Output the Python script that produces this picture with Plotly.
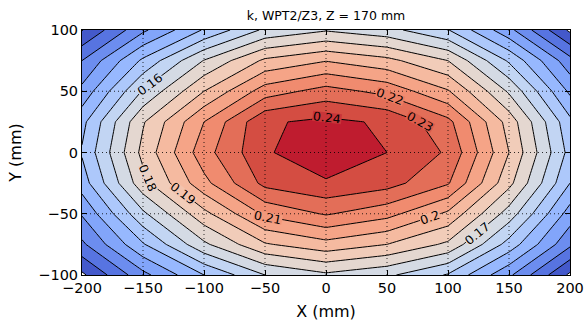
import math
import numpy as np
import plotly.graph_objects as go

x_mm = [-200, -150, -100, -50, 0, 50, 100, 150, 200]
y_mm = [-100, -75, -50, -25, 0, 25, 50, 75, 100]

k_y_m100 = [0.088, 0.117, 0.140, 0.160, 0.168, 0.162, 0.149, 0.122, 0.088]
k_y_m75 = [0.108, 0.139, 0.168, 0.189, 0.1965, 0.190, 0.178, 0.146, 0.112]
k_y_m50 = [0.121, 0.158, 0.187, 0.212, 0.221, 0.2135, 0.198, 0.1655, 0.1255]
k_y_m25 = [0.135, 0.1765, 0.207, 0.233, 0.2386, 0.234, 0.221, 0.183, 0.140]
k_y_0 = [0.141, 0.183, 0.216, 0.2385, 0.2485, 0.240, 0.2287, 0.190, 0.1465]
k_y_p25 = [0.137, 0.179, 0.210, 0.2385, 0.2425, 0.2385, 0.223, 0.186, 0.1425]
k_y_p50 = [0.123, 0.161, 0.190, 0.215, 0.224, 0.217, 0.201, 0.1685, 0.128]
k_y_p75 = [0.110, 0.142, 0.1705, 0.192, 0.1995, 0.193, 0.180, 0.1485, 0.1135]
k_y_p100 = [0.0895, 0.118, 0.141, 0.162, 0.169, 0.1634, 0.1505, 0.123, 0.088]

k_grid = [k_y_m100, k_y_m75, k_y_m50, k_y_m25, k_y_0, k_y_p25, k_y_p50, k_y_p75, k_y_p100]

x_ticks = [-200, -150, -100, -50, 0, 50, 100, 150, 200]
y_ticks = [-100, -50, 0, 50, 100]

# contour levels and which ones carry a label (direction from the centre where the label sits)
level_start, level_end, level_step = 0.09, 0.25, 0.01
label_levels = [0.16, 0.17, 0.18, 0.19, 0.20, 0.21, 0.22, 0.23, 0.24]
label_dirs_deg = [159, -28, -172, -164, -32, -132, 41, 18, 88]

title_text = "k, WPT2/Z3, Z = 170 mm"

coolwarm = [
    [0.0, "#3b4cc0"], [0.1, "#5977e3"], [0.2, "#7b9ff9"], [0.3, "#9ebeff"],
    [0.4, "#c0d4f5"], [0.5, "#dddcdc"], [0.6, "#f2cbb7"], [0.7, "#f7ac8e"],
    [0.8, "#ee8468"], [0.9, "#d65244"], [1.0, "#b40426"],
]

FONT = "DejaVu Sans"

# plot-area geometry (pixels)
W, H = 586, 323
ML, MR, MT, MB = 82, 16, 30, 48
sx = (W - ML - MR) / (x_mm[-1] - x_mm[0])
sy = (H - MT - MB) / (y_mm[-1] - y_mm[0])

Z = np.array(k_grid)
XS = np.array(x_mm, dtype=float)
YS = np.array(y_mm, dtype=float)


def zval(x, y):
    i = int(np.clip(np.searchsorted(XS, x) - 1, 0, len(XS) - 2))
    j = int(np.clip(np.searchsorted(YS, y) - 1, 0, len(YS) - 2))
    tx = (x - XS[i]) / (XS[i + 1] - XS[i])
    ty = (y - YS[j]) / (YS[j + 1] - YS[j])
    return ((1 - tx) * (1 - ty) * Z[j, i] + tx * (1 - ty) * Z[j, i + 1]
            + (1 - tx) * ty * Z[j + 1, i] + tx * ty * Z[j + 1, i + 1])


def find_on_ray(level, ang_deg):
    ca, sa = math.cos(math.radians(ang_deg)), math.sin(math.radians(ang_deg))
    t_in, t = 0.0, 0.0
    while True:
        t += 1.0
        x, y = t * ca, t * sa
        if x < XS[0] or x > XS[-1] or y < YS[0] or y > YS[-1]:
            return None
        if zval(x, y) < level:
            break
        t_in = t
    lo, hi = t_in, t
    for _ in range(40):
        mid = 0.5 * (lo + hi)
        if zval(mid * ca, mid * sa) >= level:
            lo = mid
        else:
            hi = mid
    tm = 0.5 * (lo + hi)
    return tm * ca, tm * sa


def hex_to_rgb(h):
    h = h.lstrip("#")
    return [int(h[k:k + 2], 16) for k in (0, 2, 4)]


def cmap(q):
    q = min(max(q, 0.0), 1.0)
    for (p0, c0), (p1, c1) in zip(coolwarm[:-1], coolwarm[1:]):
        if q <= p1:
            f = (q - p0) / (p1 - p0)
            a, b = hex_to_rgb(c0), hex_to_rgb(c1)
            return "rgb(%d,%d,%d)" % tuple(round(a[k] + f * (b[k] - a[k])) for k in range(3))
    return coolwarm[-1][1]


# colour normalisation like matplotlib: lowest level -> 0, highest level -> 1,
# re-expressed on plotly's fill domain [start - step/2, end + step/2]
vmin, vmax = level_start, level_end
dom_lo = level_start - level_step / 2
dom_hi = level_end + level_step / 2
fill_scale = [[0.0, "white"]]
for q, c in coolwarm:
    p = (vmin + q * (vmax - vmin) - dom_lo) / (dom_hi - dom_lo)
    fill_scale.append([p, c])
fill_scale.append([1.0, coolwarm[-1][1]])

fig = go.Figure()

# filled bands
fig.add_trace(go.Contour(
    x=x_mm, y=y_mm, z=k_grid,
    colorscale=fill_scale, showscale=False,
    contours=dict(start=level_start, end=level_end, size=level_step, coloring="fill", showlines=False),
    line=dict(width=0, smoothing=0),
    hoverinfo="skip",
))

# contour lines
fig.add_trace(go.Contour(
    x=x_mm, y=y_mm, z=k_grid, showscale=False,
    contours=dict(start=level_start, end=label_levels[-1], size=level_step, coloring="none"),
    line=dict(color="black", width=1, smoothing=0),
    hoverinfo="skip",
))

# inline labels
annotations = []
for lev, ang in zip(label_levels, label_dirs_deg):
    pt = find_on_ray(lev, ang)
    if pt is None:
        continue
    x0, y0 = pt
    h = 0.5
    gx = (zval(x0 + h, y0) - zval(x0 - h, y0)) / (2 * h)
    gy = (zval(x0, y0 + h) - zval(x0, y0 - h)) / (2 * h)
    gpx, gpy = gx / sx, -gy / sy
    rot = math.degrees(math.atan2(gpx, -gpy))
    while rot > 90:
        rot -= 180
    while rot <= -90:
        rot += 180
    txt = ("%.2f" % lev).rstrip("0")
    annotations.append(dict(
        x=x0, y=y0, xref="x", yref="y", text=txt, showarrow=False,
        textangle=rot, xanchor="center", yanchor="middle",
        font=dict(family=FONT, size=12.5, color="black"),
        bgcolor=cmap((lev - vmin) / (vmax - vmin)), borderpad=0, height=9,
    ))

shapes = []
for xv in x_ticks[1:-1]:
    shapes.append(dict(type="line", xref="x", yref="paper", x0=xv, x1=xv, y0=0, y1=1,
                       line=dict(color="rgba(0,0,0,0.8)", width=1, dash="1px,3px"), layer="above"))
for yv in y_ticks[1:-1]:
    shapes.append(dict(type="line", xref="paper", yref="y", x0=0, x1=1, y0=yv, y1=yv,
                       line=dict(color="rgba(0,0,0,0.8)", width=1, dash="1px,3px"), layer="above"))

axis_common = dict(
    showgrid=False, zeroline=False, showline=True, linecolor="black", linewidth=1,
    mirror="ticks", ticks="inside", ticklen=5, tickcolor="black",
    tickfont=dict(family=FONT, size=14.5, color="black"),
    layer="above traces", automargin=False,
)

fig.update_layout(
    width=W, height=H,
    margin=dict(l=ML, r=MR, t=MT, b=MB),
    paper_bgcolor="white", plot_bgcolor="white",
    title=dict(text=title_text, x=0.5, xref="paper", y=1 - 16 / H, yref="container",
               yanchor="middle", xanchor="center",
               font=dict(family=FONT, size=12.5, color="black")),
    xaxis=dict(range=[x_mm[0], x_mm[-1]], tickvals=x_ticks,
               title=dict(text="X (mm)", font=dict(family=FONT, size=16, color="black"), standoff=10),
               **axis_common),
    yaxis=dict(range=[y_mm[0], y_mm[-1]], tickvals=y_ticks,
               title=dict(text="Y (mm)", font=dict(family=FONT, size=16, color="black"), standoff=12),
               **axis_common),
    shapes=shapes,
    annotations=annotations,
    showlegend=False,
)

fig.write_html("out.html")
